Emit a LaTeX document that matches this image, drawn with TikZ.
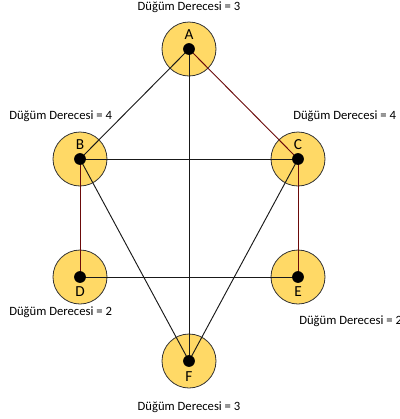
\documentclass[tikz,border=0pt]{standalone}
\usepackage{fontspec}
\setmainfont{Carlito}
\definecolor{nodefill}{HTML}{FFD966}
\definecolor{darkred}{HTML}{6B0A0A}
\begin{document}
\begin{tikzpicture}[x=0.75pt,y=-0.75pt,
  vring/.style={circle,draw=black!80,line width=0.6pt,fill=nodefill,minimum size=40.5pt,inner sep=0pt},
  vdot/.style={circle,fill=black,minimum size=8.8pt,inner sep=0pt},
  edge/.style={draw=black!90,line width=0.7pt},
  redge/.style={draw=darkred,line width=0.7pt},
  lett/.style={font=\fontsize{11.5}{13}\selectfont,inner sep=0pt},
  deg/.style={font=\fontsize{9.5}{11}\selectfont,inner sep=0pt}]
\useasboundingbox (0,0) rectangle (400,419);
% rings
\node[vring] (rA) at (189,49) {};
\node[vring] (rB) at (80,159) {};
\node[vring] (rC) at (298,159) {};
\node[vring] (rD) at (80,277) {};
\node[vring] (rE) at (298,277) {};
\node[vring] (rF) at (189,361) {};
% centers
\coordinate (A) at (189,49);
\coordinate (B) at (80,159);
\coordinate (C) at (298,159);
\coordinate (D) at (80,277);
\coordinate (E) at (298,277);
\coordinate (F) at (189,361);
% edges
\draw[edge] (A) -- (B);
\draw[redge] (A) -- (C);
\draw[edge] (A) -- (F);
\draw[edge] (B) -- (C);
\draw[redge] (B) -- (D);
\draw[edge] (B) -- (F);
\draw[redge] (C) -- (E);
\draw[edge] (C) -- (F);
\draw[edge] (D) -- (E);
% dots
\foreach \n in {A,B,C,D,E,F} \node[vdot] (d\n) at (\n) {};
% letters
\node[lett] (lA) at (189,35) {A};
\node[lett] (lB) at (80,145) {B};
\node[lett] (lC) at (298,145) {C};
\node[lett] (lD) at (80,292) {D};
\node[lett] (lE) at (298,292) {E};
\node[lett] (lF) at (189,377) {F};
% degree labels
\node[deg] (gA) at (189,7) {Düğüm Derecesi = 3};
\node[deg,anchor=west] (gB) at (9,116) {Düğüm Derecesi = 4};
\node[deg,anchor=west] (gC) at (293,116) {Düğüm Derecesi = 4};
\node[deg,anchor=west] (gD) at (9,312) {Düğüm Derecesi = 2};
\node[deg,anchor=west] (gE) at (299,321) {Düğüm Derecesi = 2};
\node[deg] (gF) at (189,407) {Düğüm Derecesi = 3};
\end{tikzpicture}
\end{document}
